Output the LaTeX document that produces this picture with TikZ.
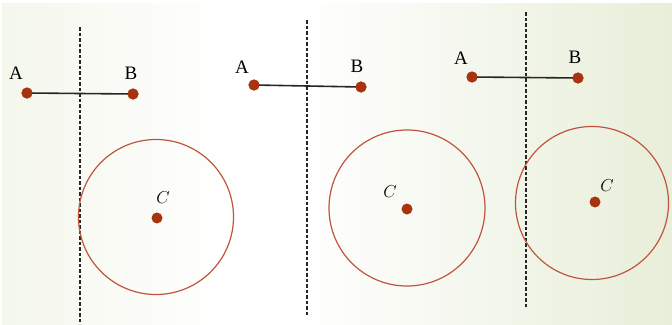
\documentclass[tikz,border=0pt]{standalone}
\usepackage{fontspec}
\setmainfont{Liberation Serif}
\begin{document}
\begin{tikzpicture}[x=1pt,y=-1pt,
  pt/.style={circle,fill=dotred,inner sep=0pt,minimum size=11pt},
  seg/.style={line width=1.6pt,black!85},
  sep/.style={line width=1.2pt,dash pattern=on 3.5pt off 2pt,black!85},
  ring/.style={draw=ringred,line width=1.2pt},
  lab/.style={font=\fontsize{19}{22}\selectfont},
  clab/.style={font=\fontsize{19}{22}\selectfont}]
\definecolor{dotred}{HTML}{A8330F}
\definecolor{ringred}{HTML}{C0553F}
\definecolor{bgl}{HTML}{F4F7EC}
\definecolor{bgr}{HTML}{E8EED9}
\useasboundingbox (0,0) rectangle (672,324);
\fill[white] (0,0) rectangle (672,324);
\shade[left color=bgl,right color=white] (2,3) rectangle (230,324);
\fill[white] (230,3) rectangle (300,324);
\shade[left color=white,right color=bgr] (300,3) rectangle (672,324);
% panel 1
\coordinate (t1) at (80,27); \coordinate (b1) at (80,324);
\draw[sep] (t1) -- (b1);
\node[ring,circle,minimum size=155pt,inner sep=0pt] (c1) at (156,217) {};
\node[pt] (A1) at (27,93) {}; \node[pt] (B1) at (133,94) {};
\draw[seg] (A1.center) -- (B1.center);
\node[pt] at (A1) {}; \node[pt] at (B1) {};
\node[pt] (C1) at (157,218) {};
\node[lab] (la1) at (16,73) {A}; \node[lab] (lb1) at (131,73) {B};
\node[clab] (lc1) at (163,198) {$C$};
% panel 2
\coordinate (t2) at (307,20); \coordinate (b2) at (307,315);
\draw[sep] (t2) -- (b2);
\node[ring,circle,minimum size=156pt,inner sep=0pt] (c2) at (407,208) {};
\node[pt] (A2) at (254,85) {}; \node[pt] (B2) at (361,87) {};
\draw[seg] (A2.center) -- (B2.center);
\node[pt] at (A2) {}; \node[pt] at (B2) {};
\node[pt] (C2) at (407,209) {};
\node[lab] (la2) at (242,67) {A}; \node[lab] (lb2) at (357,66) {B};
\node[clab] (lc2) at (390,192) {$C$};
% panel 3
\coordinate (t3) at (526,12); \coordinate (b3) at (526,308);
\draw[sep] (t3) -- (b3);
\node[ring,circle,minimum size=153pt,inner sep=0pt] (c3) at (592,203) {};
\node[pt] (A3) at (472,77) {}; \node[pt] (B3) at (578,78) {};
\draw[seg] (A3.center) -- (B3.center);
\node[pt] at (A3) {}; \node[pt] at (B3) {};
\node[pt] (C3) at (595,202) {};
\node[lab] (la3) at (461,58) {A}; \node[lab] (lb3) at (575,57) {B};
\node[clab] (lc3) at (607,186) {$C$};
\end{tikzpicture}
\end{document}
